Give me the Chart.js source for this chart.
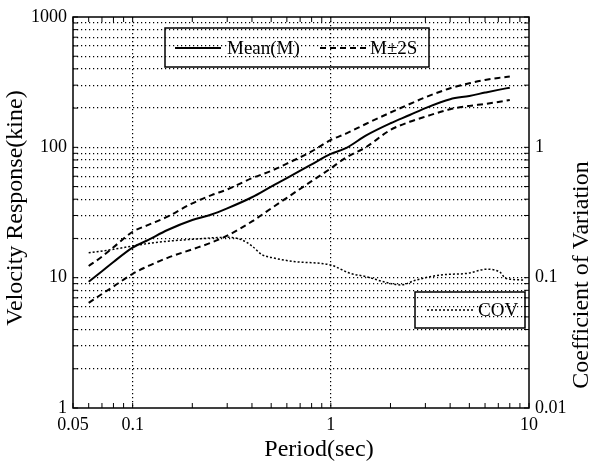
<!DOCTYPE html>
<html>
<head>
<meta charset="utf-8">
<script src="https://cdn.jsdelivr.net/npm/chart.js@4.4.1/dist/chart.umd.min.js"></script>
<style>
    html, body { margin: 0; padding: 0; background: #fff; }
</style>
</head>
<body>
<canvas id="chart" width="593" height="468"></canvas>
<script>
// periods (sec) shared by mean and M±2S curves
const periods = [0.06, 0.07, 0.08, 0.1, 0.12, 0.15, 0.2, 0.25, 0.3, 0.4, 0.5, 0.6, 0.8, 1.0, 1.2, 1.5, 2, 2.5, 3, 4, 5, 6, 7, 8];
const meanValues = [9.3, 11.2, 13.2, 17, 19.5, 23.2, 27.7, 30.5, 34, 41.4, 50, 58, 74, 89, 99, 123, 153, 177, 200, 234, 248, 263, 276, 287];
const upperValues = [12.3, 14.5, 17.1, 22.5, 25.4, 29.4, 37.2, 43, 47.5, 58, 66, 75, 93, 114, 128, 151, 185, 215, 242, 284, 310, 329, 341, 349];
const lowerValues = [6.4, 7.5, 8.55, 10.7, 12.3, 14.2, 16.5, 18.6, 21, 27, 34, 41, 55, 69, 84, 100, 136, 157, 172, 196, 208, 215, 223, 231];

// coefficient of variation (right axis)
const covPeriods = [0.06, 0.08, 0.1, 0.13, 0.2, 0.3, 0.35, 0.4, 0.45, 0.5, 0.65, 1.0, 1.25, 1.5, 1.9, 2.25, 2.7, 3.6, 4.9, 6.1, 7.2, 7.6, 9.4];
const covValues = [0.155, 0.165, 0.175, 0.186, 0.197, 0.204, 0.197, 0.175, 0.15, 0.143, 0.133, 0.125, 0.108, 0.102, 0.092, 0.088, 0.096, 0.105, 0.108, 0.116, 0.109, 0.099, 0.096];

const xTickLabels = [0.05, 0.1, 1, 10];
const yTickLabels = [1, 10, 100, 1000];
const covTickLabels = [0.01, 0.1, 1];

const FONT = '"Liberation Serif", "Times New Roman", serif';

function toPoints(xs, ys) {
    return xs.map((x, i) => ({ x, y: ys[i] }));
}

// 1..9 x 10^k between min and max, used for ticks and grid lines
function logSteps(min, max) {
    const out = [];
    for (let k = Math.floor(Math.log10(min)); k <= Math.ceil(Math.log10(max)); k++) {
        for (let m = 1; m <= 9; m++) {
            const v = Number((m * Math.pow(10, k)).toPrecision(6));
            if (v >= min - 1e-9 && v <= max + 1e-9) out.push(v);
        }
    }
    return out;
}

function setLogTicks(scale) {
    scale.ticks = logSteps(scale.min, scale.max).map(v => ({ value: v }));
}

const framePlugin = {
    id: 'frame',
    afterDatasetsDraw(chart) {
        const { ctx, chartArea: a, scales } = chart;
        const ds = chart.data.datasets;

        function line(x1, y1, x2, y2) {
            ctx.beginPath();
            ctx.moveTo(x1, y1);
            ctx.lineTo(x2, y2);
            ctx.stroke();
        }

        ctx.save();
        ctx.strokeStyle = '#000';
        ctx.lineWidth = 1.5;
        ctx.strokeRect(a.left, a.top, a.right - a.left, a.bottom - a.top);

        // inward tick marks on all four sides
        ctx.lineWidth = 1;
        scales.x.ticks.forEach(t => {
            const px = scales.x.getPixelForValue(t.value);
            line(px, a.bottom, px, a.bottom - 5);
            line(px, a.top, px, a.top + 5);
        });
        scales.y.ticks.forEach(t => {
            const py = scales.y.getPixelForValue(t.value);
            line(a.left, py, a.left + 5, py);
            line(a.right, py, a.right - 5, py);
        });

        // legend boxes
        function sample(x1, x2, y, d) {
            ctx.save();
            ctx.lineWidth = d.borderWidth;
            ctx.setLineDash(d.borderDash || []);
            line(x1, y, x2, y);
            ctx.restore();
        }
        ctx.font = '19px ' + FONT;
        ctx.fillStyle = '#000';
        ctx.textBaseline = 'middle';
        ctx.lineWidth = 1.5;

        ctx.strokeRect(165, 28, 264, 39);
        sample(175, 221, 48, ds[0]);
        ctx.fillText('Mean(M)', 227, 49);
        sample(320, 366, 48, ds[1]);
        ctx.fillText('M\u00b12S', 370, 49);

        ctx.strokeRect(415, 292, 110, 36);
        sample(427, 475, 310, ds[3]);
        ctx.fillText('COV', 478, 311);

        // axis titles
        ctx.font = '24px ' + FONT;
        ctx.textAlign = 'center';
        ctx.fillText('Period(sec)', 319, 450);

        ctx.save();
        ctx.translate(16, 208);
        ctx.rotate(-Math.PI / 2);
        ctx.fillText('Velocity Response(kine)', 0, 0);
        ctx.restore();

        ctx.save();
        ctx.translate(582, 275);
        ctx.rotate(-Math.PI / 2);
        ctx.fillText('Coefficient of Variation', 0, 0);
        ctx.restore();

        ctx.restore();
    }
};

const tickFont = { family: FONT, size: 18 };
const gridDash = [1.2, 2.8];

new Chart(document.getElementById('chart'), {
    type: 'line',
    data: {
        datasets: [
            {
                label: 'Mean(M)',
                data: toPoints(periods, meanValues),
                borderColor: '#000',
                borderWidth: 2,
                yAxisID: 'y'
            },
            {
                label: 'M+2S',
                data: toPoints(periods, upperValues),
                borderColor: '#000',
                borderWidth: 2,
                borderDash: [6, 4],
                yAxisID: 'y'
            },
            {
                label: 'M-2S',
                data: toPoints(periods, lowerValues),
                borderColor: '#000',
                borderWidth: 2,
                borderDash: [6, 4],
                yAxisID: 'y'
            },
            {
                label: 'COV',
                data: toPoints(covPeriods, covValues),
                borderColor: '#000',
                borderWidth: 1.5,
                borderDash: [2, 2],
                yAxisID: 'y2'
            }
        ]
    },
    options: {
        responsive: false,
        animation: false,
        layout: { padding: { top: 17, left: 0, right: 0, bottom: 0 } },
        elements: {
            point: { radius: 0 },
            line: { cubicInterpolationMode: 'monotone' }
        },
        plugins: {
            legend: { display: false },
            tooltip: { enabled: false }
        },
        scales: {
            x: {
                type: 'logarithmic',
                min: 0.05,
                max: 10,
                afterBuildTicks: setLogTicks,
                afterFit: s => { s.height = 60; },
                grid: {
                    color: c => (c.tick && (c.tick.value === 0.1 || c.tick.value === 1)) ? '#000' : 'transparent',
                    lineWidth: 1.2,
                    drawTicks: false
                },
                border: { display: false, dash: gridDash },
                ticks: {
                    autoSkip: false,
                    maxRotation: 0,
                    padding: 6,
                    color: '#000',
                    font: tickFont,
                    callback: v => xTickLabels.includes(v) ? String(v) : ''
                }
            },
            y: {
                type: 'logarithmic',
                position: 'left',
                min: 1,
                max: 1000,
                afterBuildTicks: setLogTicks,
                afterFit: s => { s.width = 73; },
                grid: {
                    color: c => (c.tick && c.tick.value !== 1 && c.tick.value !== 1000) ? '#000' : 'transparent',
                    lineWidth: 1.2,
                    drawTicks: false
                },
                border: { display: false, dash: gridDash },
                ticks: {
                    autoSkip: false,
                    padding: 6,
                    color: '#000',
                    font: tickFont,
                    callback: v => yTickLabels.includes(v) ? String(v) : ''
                }
            },
            y2: {
                type: 'logarithmic',
                position: 'right',
                min: 0.01,
                max: 10,
                afterBuildTicks: setLogTicks,
                afterFit: s => { s.width = 64; },
                grid: { drawOnChartArea: false, drawTicks: false },
                border: { display: false },
                ticks: {
                    autoSkip: false,
                    padding: 6,
                    color: '#000',
                    font: tickFont,
                    callback: v => covTickLabels.includes(v) ? String(v) : ''
                }
            }
        }
    },
    plugins: [framePlugin]
});
</script>
</body>
</html>
